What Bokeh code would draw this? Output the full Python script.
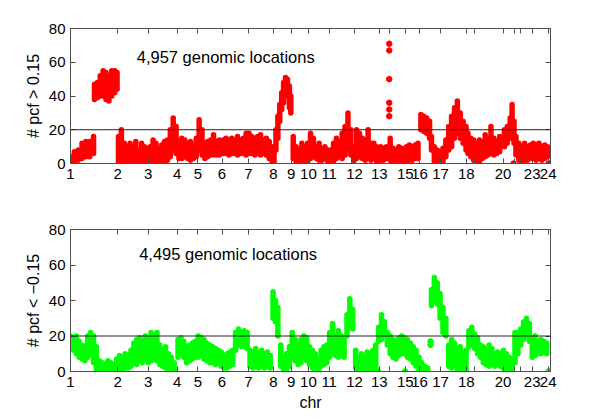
from bokeh.plotting import figure
from bokeh.layouts import column
from bokeh.models import (Range1d, FixedTicker, LinearAxis, Span, Label,
                          ColumnDataSource, CustomLabelingPolicy)
from bokeh.embed import file_html
from bokeh.resources import INLINE

# ---------------- data ----------------
chrom_names = ["1", "2", "3", "4", "5", "6", "7", "8", "9", "10", "11", "12",
               "13", "14", "15", "16", "17", "18", "19", "20", "21", "22", "23", "24"]
chrom_start = [0, 98.1, 161.9, 222.4, 265.6, 315.7, 370.5, 422.7, 459.6, 495.7,
               538.9, 591.7, 643.2, 664.1, 697.5, 727.3, 771.1, 824.7, 842.1,
               901.3, 925.5, 937.4, 961.8, 995.2]
# chromosomes whose tick label is not printed on the x axis
chrom_unlabeled = ["14", "19", "21", "22"]

# upper panel: number of pcf > 0.15 (range of values at each genomic position)
top_x = [0, 8, 16, 24, 32, 40, 48,
         50, 56, 62, 68, 74, 80, 86, 92, 97,
         100, 106, 112, 118, 124, 130, 136, 142, 148, 154, 160,
         166, 172, 178, 184, 190, 196, 202, 208, 214, 220,
         226, 232, 238, 244, 250, 256, 262,
         268, 274, 280, 286, 292, 298, 304, 310,
         318, 324, 330, 336, 342, 348, 354, 360, 366,
         372, 378, 384, 390, 396, 402, 408, 414, 420,
         424, 428, 432, 436, 440, 444, 448, 452, 456, 459,
         464, 470, 476, 482, 488, 494,
         500, 506, 512, 518, 524, 530, 536,
         542, 548, 554, 560, 566, 572, 578, 584, 590,
         596, 602, 608, 614, 620, 626, 632, 638,
         646, 652, 658,
         666, 672, 678, 684, 690,
         700, 706, 712, 718, 724,
         730, 736, 742, 748, 752, 758, 764, 770,
         776, 782, 788, 794, 800, 806, 812, 818, 824,
         828, 834, 840,
         846, 852, 858, 864, 870, 876, 882, 888, 894,
         904, 910, 916, 920, 924,
         928, 934,
         940, 946, 952, 958,
         964, 970, 976, 982, 988, 994]
top_lo = [0, 0, 2, 3, 4, 4, 6,
          38, 39, 40, 40, 38, 37, 40, 42, 44,
          1, 2, 0, 0, 1, 0, 1, 0, 1, 0, 0,
          0, 0, 1, 0, 0, 1, 2, 4, 8, 6,
          3, 3, 4, 3, 2, 3, 4,
          8, 5, 3, 4, 5, 5, 5, 5,
          6, 6, 5, 6, 6, 5, 6, 6, 5,
          6, 6, 5, 6, 5, 6, 5, 3, 0,
          0, 8, 15, 25, 32, 36, 40, 40, 33, 30,
          3, 1, 0, 1, 1, 0,
          3, 4, 3, 2, 2, 3, 1,
          0, 1, 3, 4, 3, 5, 8, 5, 1,
          3, 4, 3, 2, 3, 2, 3, 1,
          2, 2, 3,
          2, 0, 0, 1, 0,
          1, 2, 2, 3, 3,
          20, 19, 18, 15, 8, 0, 0, 0,
          1, 4, 8, 10, 15, 18, 15, 12, 8,
          6, 4, 2,
          0, 1, 3, 4, 5, 6, 5, 6, 7,
          10, 12, 15, 18, 12,
          5, 2,
          1, 2, 2, 3,
          3, 2, 3, 2, 3, 4]
top_hi = [4, 7, 8, 12, 13, 13, 16,
          47, 48, 52, 55, 54, 52, 55, 55, 54,
          16, 20, 12, 10, 12, 10, 13, 8, 12, 10, 9,
          10, 14, 12, 9, 11, 13, 14, 20, 27, 22,
          13, 15, 14, 12, 13, 11, 15,
          26, 20, 12, 13, 14, 17, 13, 14,
          14, 15, 14, 15, 14, 16, 14, 15, 18,
          18, 16, 15, 16, 17, 14, 15, 13, 10,
          8, 20, 28, 35, 42, 48, 51, 50, 46, 40,
          16, 10, 8, 12, 10, 12,
          18, 15, 10, 12, 9, 10, 8,
          8, 12, 15, 13, 18, 22, 30, 20, 10,
          20, 18, 15, 14, 20, 12, 12, 10,
          10, 9, 10,
          15, 9, 8, 10, 9,
          10, 11, 10, 11, 12,
          29, 28, 27, 25, 16, 10, 8, 7,
          9, 14, 22, 28, 33, 37, 30, 25, 22,
          18, 15, 14,
          12, 14, 13, 17, 15, 22, 15, 13, 16,
          20, 22, 27, 35, 25,
          16, 12,
          10, 12, 10, 11,
          12, 11, 12, 10, 11, 10]
top_dot_x = [664, 664, 664, 664, 664, 664, 923, 996, 999]
top_dot_y = [28, 32, 36, 50, 67, 71, 0, 0, 0]

# lower panel: number of pcf < -0.15
bot_x = [0, 6, 12, 18, 24, 30, 36, 42, 48, 54,
         60, 66, 72, 78, 84, 90, 96,
         102, 108, 114, 120, 126, 132, 138, 144, 150, 156,
         162, 168, 174, 180, 186, 192, 198, 204, 210, 216,
         224, 230, 236, 242, 248, 254, 260,
         266, 272, 278, 284, 290, 296, 302, 308, 314,
         320, 326, 332, 338, 344, 350, 356, 362, 368,
         374, 380, 386, 392, 398, 404, 410, 416,
         422, 427, 432, 438, 444, 450, 456,
         462, 468, 474, 480, 486, 492,
         498, 504, 510, 516, 522, 528, 534,
         540, 546, 552, 558, 564, 570, 576, 582, 588,
         594, 600, 606, 612, 618, 624, 630, 636,
         642, 648, 654, 660,
         666, 672, 678, 684, 690, 696,
         702, 708, 714, 720, 726,
         732, 738, 744, 752, 758, 764, 770,
         776, 782, 788, 794, 800, 806, 812, 818, 824,
         830, 836, 842,
         848, 854, 860, 866, 872, 878, 884, 890, 896,
         902, 908, 914, 920,
         926, 932,
         938, 944, 950, 956,
         962, 968, 974, 980, 986, 992]
bot_lo = [13, 12, 10, 8, 7, 6, 8, 10, 5, 1,
          0, 0, 0, 0, 0, 0, 0,
          1, 1, 2, 2, 3, 5, 4, 6, 5, 7,
          5, 6, 7, 6, 4, 3, 2, 1, 0, 0,
          8, 10, 8, 5, 6, 7, 8,
          8, 9, 7, 6, 5, 5, 4, 5, 3,
          2, 2, 3, 4, 12, 15, 14, 14, 13,
          3, 2, 3, 2, 3, 2, 3, 2,
          30, 28, 20, 3, 0, 1, 3,
          8, 6, 4, 5, 8, 6,
          4, 2, 1, 0, 3, 4, 5,
          8, 10, 9, 8, 10, 8, 20, 25, 24,
          2, 0, 1, 0, 2, 0, 1, 2,
          17, 18, 20, 15,
          10, 8, 7, 9, 10, 10,
          8, 7, 5, 3, 1,
          0, 0, 0, 37, 40, 38, 30,
          22, 20, 3, 2, 4, 0, 2, 0, 0,
          14, 15, 13,
          10, 8, 5, 4, 3, 4, 3, 4, 3,
          2, 0, 1, 0,
          5, 10,
          15, 18, 20, 17,
          8, 9, 10, 10, 11, 10]
bot_hi = [20, 19, 20, 17, 15, 14, 20, 22, 20, 14,
          6, 5, 4, 6, 5, 4, 7,
          9, 8, 10, 9, 12, 16, 18, 19, 17, 20,
          18, 22, 20, 22, 15, 12, 14, 10, 8, 5,
          18, 19, 17, 14, 15, 16, 17,
          20, 19, 18, 16, 15, 14, 13, 12, 11,
          9, 10, 11, 12, 22, 24, 22, 23, 22,
          12, 11, 13, 10, 12, 10, 11, 9,
          45, 40, 36, 15, 8, 10, 14,
          22, 18, 15, 18, 20, 19,
          14, 12, 10, 7, 12, 14, 15,
          22, 27, 20, 23, 20, 18, 32, 41, 35,
          12, 8, 10, 9, 11, 10, 12, 15,
          25, 32, 28, 22,
          20, 18, 17, 19, 20, 19,
          18, 16, 14, 12, 8,
          5, 3, 2, 46, 53, 50, 44,
          36, 30, 15, 18, 16, 12, 14, 10, 12,
          23, 25, 21,
          19, 15, 14, 12, 15, 13, 10, 11, 10,
          12, 10, 8, 7,
          22, 22,
          24, 28, 30, 27,
          18, 20, 17, 18, 17, 16]
bot_dot_x = [641, 697, 750, 750, 996, 999]
bot_dot_y = [0, 0, 15, 17, 0, 0]

top_note = "4,957 genomic locations"
bot_note = "4,495 genomic locations"
y_ticks = [0, 20, 40, 60, 80]
threshold = 20

FONT = "Liberation Sans"
AX = "#4d4d4d"

hide_idx = [chrom_names.index(c) for c in chrom_unlabeled]
hide_some = CustomLabelingPolicy(args=dict(hide=hide_idx),
                                 code="for (const i of hide) { indices.unset(i) } return indices")
hide_all = CustomLabelingPolicy(code="const n = indices.size; for (let i = 0; i < n; i++) { indices.unset(i) } return indices")


def style_axis(ax):
    ax.axis_line_color = AX
    ax.major_tick_line_color = AX
    ax.minor_tick_line_color = None
    ax.major_tick_in = 5
    ax.major_tick_out = 0
    ax.major_label_standoff = 5
    ax.major_label_text_font = FONT
    ax.major_label_text_font_size = "15px"
    ax.major_label_text_color = "black"
    ax.axis_label_text_font = FONT
    ax.axis_label_text_font_size = "16px"
    ax.axis_label_text_font_style = "normal"
    ax.axis_label_text_color = "black"


def panel(xs, lo, hi, dx, dy, color, ylabel, note, note_x, note_y,
          fh, bt, bb, xlabel=None):
    p = figure(output_backend="svg", toolbar_location=None,
               frame_width=480, frame_height=fh,
               min_border_left=70, min_border_right=22,
               min_border_top=bt, min_border_bottom=bb,
               x_range=Range1d(0, 1000), y_range=Range1d(0, 80),
               x_axis_label=xlabel, y_axis_label=ylabel)
    p.background_fill_color = "white"
    p.border_fill_color = "white"
    p.outline_line_color = AX
    p.grid.visible = False
    p.xaxis.ticker = FixedTicker(ticks=chrom_start)
    p.xaxis.major_label_overrides = {float(v): t for v, t in zip(chrom_start, chrom_names)}
    p.xaxis.major_label_policy = hide_some
    p.yaxis.ticker = FixedTicker(ticks=y_ticks)
    style_axis(p.xaxis[0])
    style_axis(p.yaxis[0])
    p.yaxis[0].axis_label_standoff = 4
    p.xaxis[0].axis_label_standoff = 4
    top_ax = LinearAxis(ticker=FixedTicker(ticks=chrom_start), major_label_policy=hide_all)
    style_axis(top_ax)
    p.add_layout(top_ax, "above")
    right_ax = LinearAxis(ticker=FixedTicker(ticks=y_ticks), major_label_policy=hide_all)
    style_axis(right_ax)
    p.add_layout(right_ax, "right")

    src = ColumnDataSource(dict(x=xs, lo=lo, hi=hi))
    p.segment(x0="x", y0="lo", x1="x", y1="hi", source=src,
              line_color=color, line_width=5.5, line_cap="round")
    p.scatter(dx, dy, size=5.5, fill_color=color, line_color=color)
    p.add_layout(Span(location=threshold, dimension="width",
                      line_color="#222222", line_width=1))
    p.add_layout(Label(x=note_x, y=note_y, text=note, text_font=FONT,
                       text_font_size="16.5px", text_color="black",
                       text_baseline="alphabetic"))
    return p


p_top = panel(top_x, top_lo, top_hi, top_dot_x, top_dot_y, "#ff0000",
              "# pcf > 0.15", top_note, 138, 63.4, 135, 28, 25)
p_bot = panel(bot_x, bot_lo, bot_hi, bot_dot_x, bot_dot_y, "#00ff00",
              "# pcf < \u22120.15", bot_note, 143, 66, 142, 41, 40, xlabel="chr")

layout = column(p_top, p_bot, spacing=0)
open("out.html", "w").write(file_html(layout, INLINE))
